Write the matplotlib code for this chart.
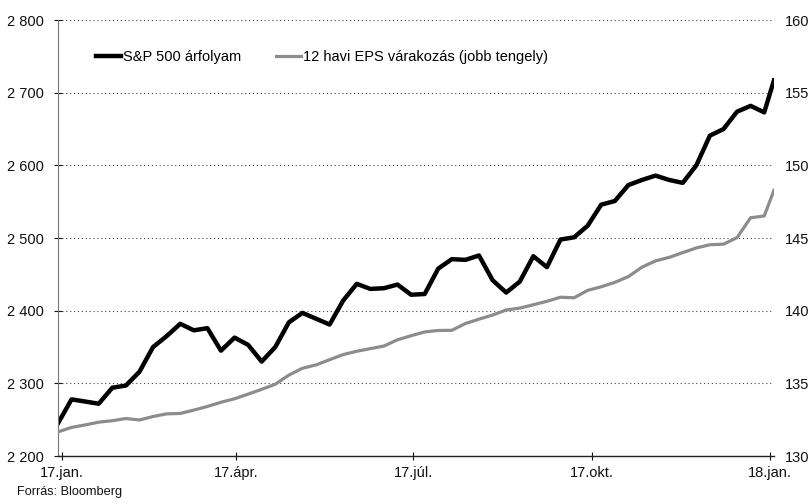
import pandas as pd
import matplotlib
matplotlib.use("Agg")
import matplotlib.pyplot as plt
from matplotlib.ticker import FuncFormatter

plt.rcParams["font.family"] = ["Liberation Sans", "DejaVu Sans"]

# heti adatok (péntek), az utolsó pont 2018.01.03
dates = list(pd.date_range("2016-12-30", periods=53, freq="7D")) + [pd.Timestamp("2018-01-03")]

sp500 = [2245, 2278, 2275, 2272, 2294, 2297, 2316, 2350, 2365, 2382,
         2373, 2376, 2345, 2363, 2353, 2330, 2350, 2384, 2397, 2389,
         2381, 2414, 2437, 2430, 2431, 2436, 2422, 2423, 2458, 2471,
         2470, 2476, 2442, 2425, 2440, 2475, 2460, 2498, 2501, 2517,
         2546, 2551, 2573, 2580, 2586, 2580, 2576, 2600, 2641, 2650,
         2674, 2682, 2673, 2717]

eps = [131.66, 131.97, 132.14, 132.33, 132.43, 132.58, 132.48, 132.72, 132.90, 132.93,
       133.16, 133.41, 133.70, 133.94, 134.26, 134.59, 134.94, 135.57, 136.04, 136.27,
       136.63, 136.98, 137.21, 137.39, 137.57, 138.00, 138.28, 138.54, 138.64, 138.65,
       139.12, 139.42, 139.70, 140.05, 140.18, 140.41, 140.65, 140.93, 140.89, 141.40,
       141.65, 141.95, 142.35, 143.00, 143.43, 143.67, 144.00, 144.32, 144.54, 144.58,
       145.03, 146.40, 146.52, 148.28]

xtick_dates = ["2017-01-01", "2017-04-01", "2017-07-01", "2017-10-01", "2018-01-01"]
xtick_labels = ["17.jan.", "17.ápr.", "17.júl.", "17.okt.", "18.jan."]
left_ticks = [2200, 2300, 2400, 2500, 2600, 2700, 2800]
right_ticks = [130, 135, 140, 145, 150, 155, 160]

fig = plt.figure(figsize=(8.12, 5.03), dpi=100)
ax = fig.add_axes([0.0714, 0.0934, 0.8817, 0.8666])
ax2 = ax.twinx()

l1, = ax.plot(dates, sp500, color="black", lw=3.2, solid_joinstyle="round",
              label="S&P 500 árfolyam")
l2, = ax2.plot(dates, eps, color="#8c8c8c", lw=2.3, solid_joinstyle="round",
               label="12 havi EPS várakozás (jobb tengely)")

ax.set_xlim(pd.Timestamp("2016-12-30"), pd.Timestamp("2018-01-03"))
ax.set_ylim(2200, 2800)
ax2.set_ylim(130, 160)

ax.set_yticks(left_ticks)
ax.yaxis.set_major_formatter(FuncFormatter(lambda v, p: f"{v:,.0f}".replace(",", " ")))
ax2.set_yticks(right_ticks)
ax.set_xticks(pd.to_datetime(xtick_dates))
ax.set_xticklabels(xtick_labels)

ax.grid(axis="y", linestyle=(0, (1, 2.5)), color="#444444", lw=0.8)
for a in (ax, ax2):
    a.spines["top"].set_visible(False)
    a.spines["right"].set_visible(False)
ax2.spines["left"].set_visible(False)
ax2.spines["bottom"].set_visible(False)
ax.spines["left"].set_color("#777777")
ax.spines["left"].set_linewidth(0.8)
ax.spines["bottom"].set_color("#222222")
ax.spines["bottom"].set_linewidth(1.0)

ax.tick_params(axis="y", direction="inout", length=6, width=0.8, pad=7,
               labelsize=10.5, colors="#111111")
ax.tick_params(axis="x", direction="inout", length=6, width=0.8, pad=4,
               labelsize=10.5, colors="#111111")
ax2.tick_params(axis="y", length=0, pad=8, labelsize=10.5, colors="#111111")

ax.legend([l1, l2], [l1.get_label(), l2.get_label()], loc="center left",
          bbox_to_anchor=(0.053, 0.915), ncol=2, frameon=False, fontsize=10.5,
          handlelength=1.7, handletextpad=0.15, columnspacing=2.4, borderpad=0,
          borderaxespad=0)

fig.text(0.021, 0.016, "Forrás: Bloomberg", fontsize=9.2, color="#111111")

fig.savefig("out.png", dpi=100)
